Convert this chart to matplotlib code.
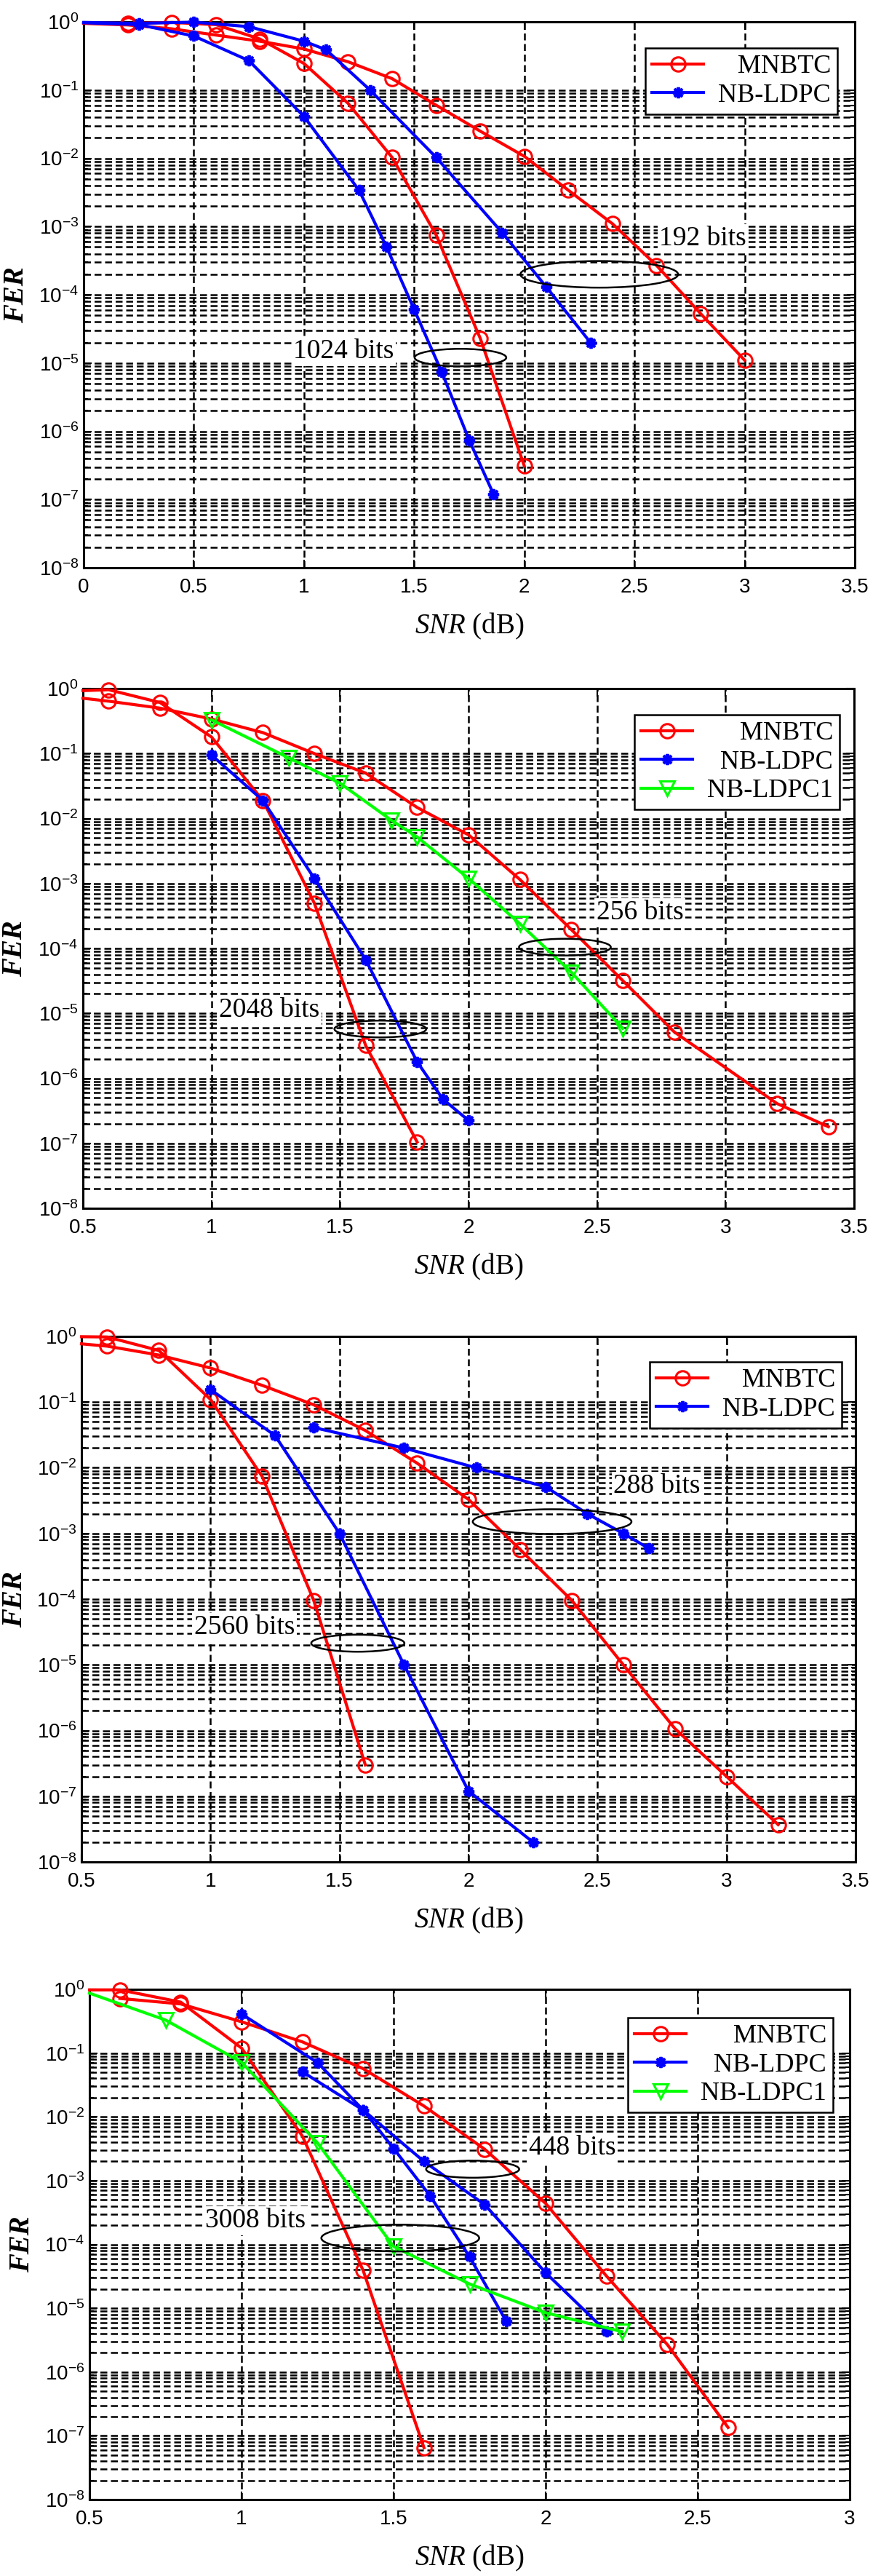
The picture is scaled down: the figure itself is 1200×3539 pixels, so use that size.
import matplotlib
matplotlib.use("Agg")
import matplotlib.pyplot as plt
import numpy as np
from matplotlib.patches import Ellipse
from matplotlib.ticker import FixedLocator, NullFormatter, LogFormatterSciNotation

plt.rcParams['font.family'] = ['Liberation Sans', 'DejaVu Sans']
plt.rcParams['mathtext.fontset'] = 'custom'
plt.rcParams['mathtext.it'] = 'Liberation Serif:italic'
plt.rcParams['mathtext.rm'] = 'Liberation Serif'
plt.rcParams['axes.unicode_minus'] = False

# ---- panel 1 : 1024 / 192 bits ----
snr1_mnbtc_a = [0, 0.2, 0.4, 0.6, 0.8, 1.0, 1.2, 1.4, 1.6, 1.8, 2.0]
fer1_mnbtc_a = [0.97, 0.95, 0.98, 0.91, 0.56, 0.245, 0.064, 0.0103, 7.5e-4, 2.3e-5, 3.1e-7]
snr1_mnbtc_b = [0, 0.2, 0.4, 0.6, 0.8, 1.0, 1.2, 1.4, 1.6, 1.8, 2.0, 2.2, 2.4, 2.6, 2.8, 3.0]
fer1_mnbtc_b = [0.95, 0.9, 0.79, 0.64, 0.52, 0.40, 0.26, 0.147, 0.06, 0.025, 0.0107,
                3.4e-3, 1.1e-3, 2.7e-4, 5.3e-5, 1.1e-5]
snr1_ldpc_a = [0, 0.25, 0.5, 0.75, 1.0, 1.25, 1.375, 1.5, 1.625, 1.75, 1.86]
fer1_ldpc_a = [0.97, 0.91, 0.62, 0.27, 0.041, 3.4e-3, 5.0e-4, 6.1e-5, 7.4e-6, 7.4e-7, 1.2e-7]
snr1_ldpc_b = [0, 0.25, 0.5, 0.75, 1.0, 1.1, 1.3, 1.6, 1.9, 2.1, 2.3]
fer1_ldpc_b = [0.98, 0.95, 0.99, 0.85, 0.52, 0.39, 0.10, 0.0103, 8.1e-4, 1.3e-4, 2.0e-5]

# ---- panel 2 : 2048 / 256 bits ----
snr2_mnbtc_a = [0.5, 0.6, 0.8, 1.0, 1.2, 1.4, 1.6, 1.8]
fer2_mnbtc_a = [0.93, 0.96, 0.61, 0.18, 0.019, 5.0e-4, 3.2e-6, 1.05e-7]
snr2_mnbtc_b = [0.5, 0.6, 0.8, 1.0, 1.2, 1.4, 1.6, 1.8, 2.0, 2.2, 2.4, 2.6, 2.8, 3.2, 3.4]
fer2_mnbtc_b = [0.71, 0.64, 0.50, 0.34, 0.21, 0.10, 0.05, 0.0148, 5.6e-3, 1.15e-3,
                1.95e-4, 3.2e-5, 5.2e-6, 4.1e-7, 1.8e-7]
snr2_ldpc = [1.0, 1.2, 1.4, 1.6, 1.8, 1.9, 2.0]
fer2_ldpc = [0.095, 0.019, 1.2e-3, 6.7e-5, 1.8e-6, 4.8e-7, 2.25e-7]
snr2_ldpc1 = [1.0, 1.3, 1.5, 1.7, 1.8, 2.0, 2.2, 2.4, 2.6]
fer2_ldpc1 = [0.33, 0.086, 0.035, 9.4e-3, 5.2e-3, 1.2e-3, 2.4e-4, 4.3e-5, 5.9e-6]

# ---- panel 3 : 2560 / 288 bits ----
snr3_mnbtc_a = [0.5, 0.6, 0.8, 1.0, 1.2, 1.4, 1.6]
fer3_mnbtc_a = [0.99, 0.98, 0.61, 0.11, 7.4e-3, 9.6e-5, 3.0e-7]
snr3_mnbtc_b = [0.5, 0.6, 0.8, 1.0, 1.2, 1.4, 1.6, 1.8, 2.0, 2.2, 2.4, 2.6, 2.8, 3.0, 3.2]
fer3_mnbtc_b = [0.77, 0.71, 0.52, 0.33, 0.18, 0.091, 0.037, 0.0118, 3.3e-3, 5.7e-4,
                9.6e-5, 1.0e-5, 1.07e-6, 2.0e-7, 3.7e-8]
snr3_ldpc_a = [1.0, 1.25, 1.5, 1.75, 2.0, 2.25]
fer3_ldpc_a = [0.155, 0.031, 1.0e-3, 1.0e-5, 1.2e-7, 2.0e-8]
snr3_ldpc_b = [1.4, 1.75, 2.03, 2.3, 2.46, 2.6, 2.7]
fer3_ldpc_b = [0.041, 0.020, 0.010, 5.1e-3, 2.0e-3, 1.0e-3, 5.9e-4]

# ---- panel 4 : 3008 / 448 bits ----
snr4_mnbtc_a = [0.5, 0.6, 0.8, 1.0, 1.2, 1.4, 1.6]
fer4_mnbtc_a = [0.98, 0.98, 0.63, 0.12, 5.0e-3, 3.9e-5, 6.5e-8]
snr4_mnbtc_b = [0.6, 0.8, 1.0, 1.2, 1.4, 1.6, 1.8, 2.0, 2.2, 2.4, 2.6]
fer4_mnbtc_b = [0.72, 0.59, 0.31, 0.15, 0.057, 0.0148, 3.1e-3, 4.4e-4, 3.2e-5, 2.7e-6, 1.35e-7]
snr4_ldpc_a = [1.0, 1.25, 1.4, 1.6, 1.8, 2.0, 2.2]
fer4_ldpc_a = [0.41, 0.071, 0.0128, 2.0e-3, 4.2e-4, 3.6e-5, 4.3e-6]
snr4_ldpc_b = [1.2, 1.4, 1.5, 1.62, 1.75, 1.87]
fer4_ldpc_b = [0.051, 0.0128, 3.2e-3, 5.8e-4, 6.4e-5, 6.3e-6]
snr4_ldpc1 = [0.5, 0.75, 1.0, 1.25, 1.5, 1.75, 2.0, 2.25]
fer4_ldpc1 = [0.87, 0.33, 0.072, 3.9e-3, 9.3e-5, 2.4e-5, 8.5e-6, 4.3e-6]

xticks_a = [0, 0.5, 1, 1.5, 2, 2.5, 3, 3.5]
xticks_b = [0.5, 1, 1.5, 2, 2.5, 3, 3.5]
xticks_c = [0.5, 1, 1.5, 2, 2.5, 3]

# annotations: label (x, log10 FER), ellipse centre (x, log10 FER), size (x units, decades)
notes1 = [("192 bits", 2.81, -3.18, 2.34, -3.70, 0.716, 0.39),
          ("1024 bits", 1.18, -4.83, 1.71, -4.92, 0.416, 0.256)]
notes2 = [("256 bits", 2.667, -3.45, 2.375, -3.98, 0.357, 0.258),
          ("2048 bits", 1.225, -4.95, 1.657, -5.24, 0.357, 0.258)]
notes3 = [("288 bits", 2.73, -2.28, 2.324, -2.82, 0.615, 0.377),
          ("2560 bits", 1.132, -4.43, 1.571, -4.67, 0.361, 0.26)]
notes4 = [("448 bits", 2.088, -2.49, 1.76, -2.82, 0.306, 0.268),
          ("3008 bits", 1.046, -3.63, 1.522, -3.90, 0.519, 0.42)]

RED = dict(color='#ff0000', marker='o', ms=14, mfc='none', mew=2.2, lw=3.0)
BLUE = dict(color='#0000ff', marker=(8, 2, 0), ms=11, mew=2.8, lw=3.0)
GREEN = dict(color='#00ff00', marker='v', ms=15, mfc='none', mew=2.2, lw=3.0)

W, H = 1200, 3539
fig = plt.figure(figsize=(W / 100, H / 100), dpi=100)

# pixel boxes (left, right, top, bottom)
boxes = [(115, 1175, 30, 780), (114, 1174, 946, 1660),
         (112, 1176, 1836, 2558), (123, 1168, 2733, 3434)]
leg_corner = [(1151, 66), (1154, 982), (1157, 1871), (1145, 2772)]
ylab_x = [23, 21, 21, 31]

panels = [
    ([(snr1_mnbtc_a, fer1_mnbtc_a, RED), (snr1_mnbtc_b, fer1_mnbtc_b, RED),
      (snr1_ldpc_a, fer1_ldpc_a, BLUE), (snr1_ldpc_b, fer1_ldpc_b, BLUE)],
     xticks_a, notes1, ['   MNBTC', 'NB-LDPC']),
    ([(snr2_mnbtc_a, fer2_mnbtc_a, RED), (snr2_mnbtc_b, fer2_mnbtc_b, RED),
      (snr2_ldpc, fer2_ldpc, BLUE), (snr2_ldpc1, fer2_ldpc1, GREEN)],
     xticks_b, notes2, ['     MNBTC', '  NB-LDPC', 'NB-LDPC1']),
    ([(snr3_mnbtc_a, fer3_mnbtc_a, RED), (snr3_mnbtc_b, fer3_mnbtc_b, RED),
      (snr3_ldpc_a, fer3_ldpc_a, BLUE), (snr3_ldpc_b, fer3_ldpc_b, BLUE)],
     xticks_b, notes3, ['   MNBTC', 'NB-LDPC']),
    ([(snr4_mnbtc_a, fer4_mnbtc_a, RED), (snr4_mnbtc_b, fer4_mnbtc_b, RED),
      (snr4_ldpc_a, fer4_ldpc_a, BLUE), (snr4_ldpc_b, fer4_ldpc_b, BLUE),
      (snr4_ldpc1, fer4_ldpc1, GREEN)],
     xticks_c, notes4, ['     MNBTC', '  NB-LDPC', 'NB-LDPC1']),
]

minor_vals = [m * 10.0 ** k for k in range(-8, -1) for m in range(2, 10)]
dash = (0, (3.8, 2.0))

for i, (curves, xt, notes, labels) in enumerate(panels):
    L, R, T, B = boxes[i]
    ax = fig.add_axes([L / W, 1 - B / H, (R - L) / W, (B - T) / H])
    ax.set_yscale('log')
    ax.set_xlim(xt[0], xt[-1])
    ax.set_ylim(1e-8, 1)
    xmin = xt[0]

    handles = {}
    for snr, fer, st in curves:
        mk = [j for j, s in enumerate(snr) if s > xmin]
        ln, = ax.plot(snr, fer, markevery=mk, clip_on=False, zorder=3, **st)
        handles.setdefault(id(st), ln)
    hl = list(handles.values())

    ax.set_xticks(xt)
    ax.set_xticklabels([f'{v:g}' for v in xt])
    ax.yaxis.set_major_locator(FixedLocator([10.0 ** -k for k in range(9)]))
    ax.yaxis.set_major_formatter(LogFormatterSciNotation())
    ax.yaxis.set_minor_locator(FixedLocator(minor_vals))
    ax.yaxis.set_minor_formatter(NullFormatter())

    ax.xaxis.grid(True, which='major', color='k', lw=1.8, ls=dash)
    ax.yaxis.grid(True, which='both', color='k', lw=1.8, ls=dash)
    ax.set_axisbelow(True)

    ax.tick_params(which='both', direction='in', top=True, right=True, width=1.5)
    ax.tick_params(which='major', length=8)
    ax.tick_params(which='minor', length=4)
    ax.tick_params(axis='x', labelsize=20, pad=10)
    ax.tick_params(axis='y', labelsize=20, pad=5)
    for sp in ax.spines.values():
        sp.set_linewidth(2.2)

    ax.set_xlabel(r'$\mathit{SNR}$ (dB)', family='Liberation Serif', size=28)
    ax.xaxis.label.set_va('center')
    ax.xaxis.set_label_coords(0.5, -80 / (B - T))
    ax.set_ylabel('FER', family='Liberation Serif', style='italic', weight='bold', size=28)
    ax.yaxis.label.set_va('center')
    ax.yaxis.set_label_coords((ylab_x[i] - L) / (R - L), 0.5)

    tl = ax.transLimits + ax.transAxes
    for txt, tx, ty, ex, ey, ew, eh in notes:
        ax.add_patch(Ellipse((ex, ey), ew, eh, transform=tl, fill=False,
                             ec='k', lw=1.8, zorder=4, clip_on=False))
        ax.text(tx, 10 ** ty, txt, family='Liberation Serif', size=27,
                ha='center', va='center', zorder=2,
                bbox=dict(facecolor='white', edgecolor='none', pad=2))

    lx, ly = leg_corner[i]
    leg = ax.legend(hl, labels, loc='upper right',
                    bbox_to_anchor=((lx - L) / (R - L), 1 - (ly - T) / (B - T)),
                    borderaxespad=0, prop={'family': 'Liberation Serif', 'size': 26},
                    numpoints=1, handlelength=1.95, handletextpad=0.55,
                    labelspacing=0.17, borderpad=0.25, fancybox=False,
                    framealpha=1, edgecolor='k')
    leg.get_frame().set_linewidth(1.8)
    leg.set_zorder(5)

fig.savefig('out.png', dpi=100)
